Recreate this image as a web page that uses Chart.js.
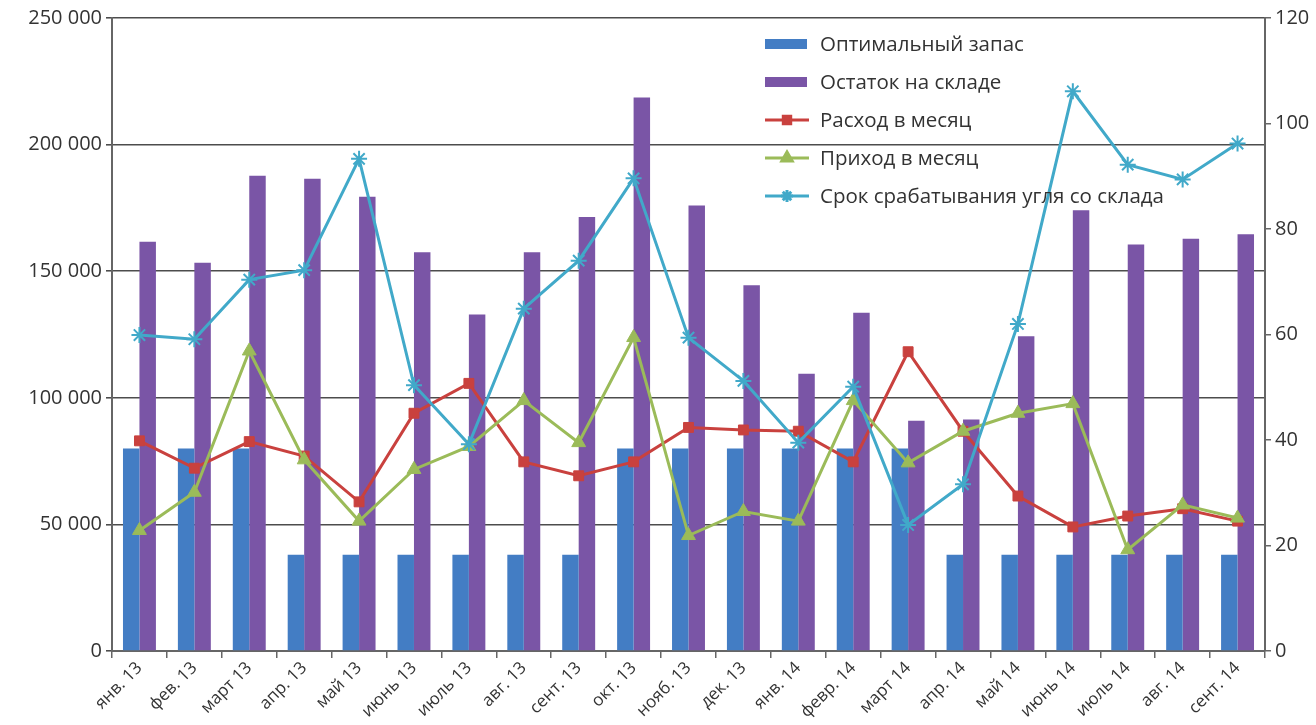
<!DOCTYPE html>
<html lang="ru">
<head>
<meta charset="utf-8">
<title>Запас угля на складе</title>
<script src="https://cdn.jsdelivr.net/npm/chart.js@4/dist/chart.umd.min.js"></script>
<style>
  html, body { margin: 0; padding: 0; background: #fff; }
  #wrap { width: 1316px; height: 725px; position: relative; }
</style>
</head>
<body>
<div id="wrap"><canvas id="chart" width="1316" height="725"></canvas></div>
<script>
/* Запас угля: бары на левой оси, срок срабатывания — на правой */
const months = ['янв. 13', 'фев. 13', 'март 13', 'апр. 13', 'май 13', 'июнь 13', 'июль 13',
  'авг. 13', 'сент. 13', 'окт. 13', 'нояб. 13', 'дек. 13', 'янв. 14', 'февр. 14',
  'март 14', 'апр. 14', 'май 14', 'июнь 14', 'июль 14', 'авг. 14', 'сент. 14']

const optimalStock = [80000, 80000, 80000, 38000, 38000, 38000, 38000, 38000, 38000,
  80000, 80000, 80000, 80000, 80000, 80000, 38000, 38000, 38000, 38000, 38000, 38000]
const stockLeft    = [161600, 153300, 187700, 186500, 179400, 157500, 132900, 157500, 171400,
  218600, 175900, 144500, 109500, 133600, 90900, 91400, 124300, 174100, 160500, 162800, 164600]
const monthlyUse   = [83000, 72200, 82700, 77000, 58900, 93900, 105700, 74700, 69200,
  74700, 88300, 87300, 86800, 74700, 118200, 86800, 61200, 49000, 53300, 56200, 51300]
const monthlyIn    = [47600, 62700, 118500, 75500, 51300, 71700, 80800, 98900, 82300,
  123800, 45600, 55100, 51300, 98900, 74300, 86800, 93900, 97700, 40000, 57700, 52500]
const daysLeft     = [59.9, 59.1, 70.4, 72.2, 93.3, 50.4, 39.2, 64.9, 74.0,
  89.6, 59.4, 51.2, 39.5, 50.1, 23.9, 31.6, 62.0, 106.1, 92.2, 89.4, 96.2]

const leftTicks  = [0, 50000, 100000, 150000, 200000, 250000]
const rightTicks = [0, 20, 40, 60, 80, 100, 120]

const fmt = v => String(v).replace(/\B(?=(\d{3})+(?!\d))/g, ' ')
const axisColor = '#666'
const family = "'Open Sans', 'Noto Sans', sans-serif"
const yFont = { family, size: 20 }
const xFont = { family, size: 17 }

// легенда внутри области графика, как в оригинале
const innerLegend = {
  id: 'innerLegend',
  afterDraw (chart) {
    const { ctx, data } = chart
    const x0 = 765, y0 = 44, step = 38
    ctx.save()
    ctx.font = `20.5px ${family}`
    ctx.textBaseline = 'middle'
    data.datasets.forEach((ds, i) => {
      const y = y0 + i * step
      if (ds.type === 'bar') {
        ctx.fillStyle = ds.backgroundColor
        ctx.fillRect(x0, y - 5, 42, 10)
      } else {
        ctx.strokeStyle = ds.borderColor
        ctx.lineWidth = 3
        ctx.beginPath(); ctx.moveTo(x0, y); ctx.lineTo(x0 + 44, y); ctx.stroke()
        ctx.fillStyle = ds.pointBackgroundColor
        ctx.strokeStyle = ds.pointBorderColor
        Chart.helpers.drawPoint(ctx, {
          pointStyle: ds.pointStyle, radius: ds.pointRadius * 0.75,
          rotation: 0, borderWidth: ds.pointBorderWidth
        }, x0 + 22, y)
      }
      ctx.fillStyle = '#333'
      ctx.fillText(ds.label, x0 + 55, y + 1)
    })
    ctx.restore()
  }
}

function init () {
  const canvas = document.getElementById('chart')

  new Chart(canvas, {
    data: {
      labels: months,
      datasets: [
        { type: 'bar', label: 'Оптимальный запас', data: optimalStock, yAxisID: 'y',
          backgroundColor: '#437dc4', order: 10, categoryPercentage: 0.6, barPercentage: 1 },
        { type: 'bar', label: 'Остаток на складе', data: stockLeft, yAxisID: 'y',
          backgroundColor: '#7a55a6', order: 10, categoryPercentage: 0.6, barPercentage: 1 },
        { type: 'line', label: 'Расход в месяц', data: monthlyUse, yAxisID: 'y',
          borderColor: '#c9413e', borderWidth: 3, pointStyle: 'rect', pointRadius: 7,
          pointBackgroundColor: '#c9413e', pointBorderColor: '#c9413e', pointBorderWidth: 1,
          tension: 0, order: 3 },
        { type: 'line', label: 'Приход в месяц', data: monthlyIn, yAxisID: 'y',
          borderColor: '#9bbb59', borderWidth: 3, pointStyle: 'triangle', pointRadius: 8,
          pointBackgroundColor: '#9bbb59', pointBorderColor: '#9bbb59', pointBorderWidth: 1,
          tension: 0, order: 2 },
        { type: 'line', label: 'Срок срабатывания угля со склада', data: daysLeft, yAxisID: 'y1',
          borderColor: '#41a9c9', borderWidth: 3, pointStyle: 'star', pointRadius: 8,
          pointBackgroundColor: '#41a9c9', pointBorderColor: '#41a9c9', pointBorderWidth: 2,
          tension: 0, order: 1 }
      ]
    },
    options: {
      responsive: false,
      animation: false,
      layout: { padding: { top: 18, left: 0, right: 0, bottom: 0 } },
      plugins: { legend: { display: false }, tooltip: { enabled: false } },
      scales: {
        x: {
          grid: { offset: true, drawOnChartArea: false, drawTicks: true, tickLength: 7,
                  color: axisColor, lineWidth: 1.5 },
          border: { color: axisColor, width: 2 },
          ticks: { font: xFont, color: '#333', maxRotation: 45, minRotation: 45, autoSkip: false, padding: 0 },
          afterFit: s => { s.height = 74 }
        },
        y: {
          position: 'left', min: 0, max: 250000,
          afterBuildTicks: s => { s.ticks = leftTicks.map(value => ({ value })) },
          grid: { color: '#4d4d4d', lineWidth: 1.6, tickLength: 6 },
          border: { color: axisColor, width: 2 },
          ticks: { font: yFont, color: '#333', padding: 4, callback: v => fmt(v) },
          afterFit: s => { s.width = 112 }
        },
        y1: {
          position: 'right', min: 0, max: 120,
          afterBuildTicks: s => { s.ticks = rightTicks.map(value => ({ value })) },
          grid: { drawOnChartArea: false, color: axisColor, lineWidth: 1.5, tickLength: 6 },
          border: { color: axisColor, width: 2 },
          ticks: { font: yFont, color: '#333', padding: 4 },
          afterFit: s => { s.width = 51 }
        }
      }
    },
    plugins: [innerLegend]
  })
}

document.readyState === 'loading'
  ? document.addEventListener('DOMContentLoaded', init, { once: true })
  : init()
</script>
</body>
</html>
